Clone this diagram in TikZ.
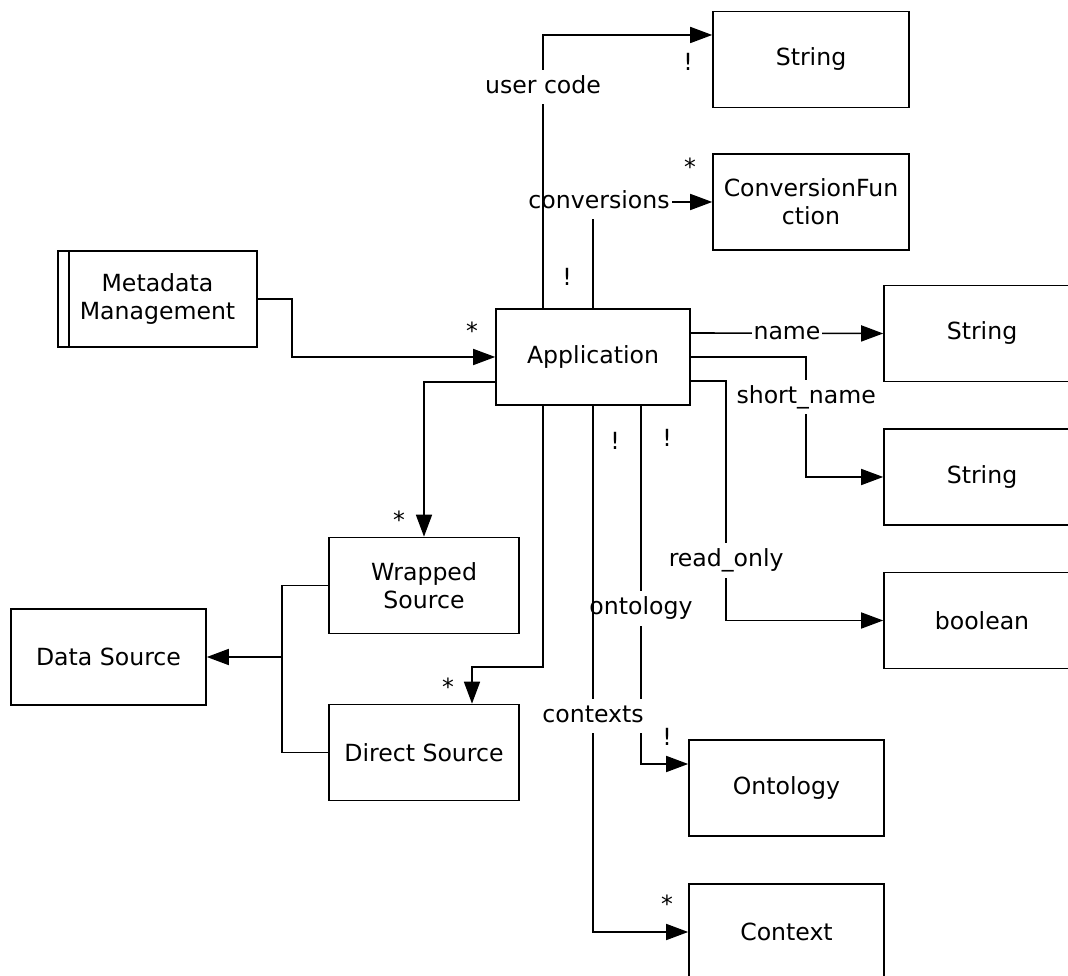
\documentclass[tikz,border=0pt]{standalone}
\usepackage{fontspec}
\setmainfont{DejaVu Sans}
\usetikzlibrary{arrows.meta}
\begin{document}
\begin{tikzpicture}[x=1pt, y=1pt,
	classbox/.style={draw, line width=1.6pt, minimum width=195pt, minimum height=96pt, align=center, font=\fontsize{23.6}{28}\selectfont},
	link/.style={line width=1.6pt, -{Triangle[length=22pt, width=16pt]}},
	plain/.style={line width=1.6pt},
	lbl/.style={fill=white, inner xsep=2pt, inner ysep=6pt, text height=17.5pt, text depth=5pt, font=\fontsize{23.6}{28}\selectfont},
	mult/.style={inner sep=0pt, font=\fontsize{23.6}{28}\selectfont}]
				\useasboundingbox (0,0) rectangle (1068,976);
				\clip (0,0) rectangle (1068,976);
				\node[classbox, minimum width=196pt] (str1) at (811,916.5) {String};
				\node[classbox, minimum width=196pt] (conv) at (811,774) {ConversionFun\\ction};
				\node[classbox, minimum width=199pt] (meta) at (157.5,677) {Metadata\\Management};
				\draw[plain] ([xshift=12pt]meta.north west) -- ([xshift=12pt]meta.south west);
				\node[classbox, minimum width=194pt] (app) at (593,619) {Application};
				\node[classbox, minimum width=196pt] (str2) at (982,642.5) {String};
				\node[classbox, minimum width=196pt] (str3) at (982,499) {String};
				\node[classbox, minimum width=196pt] (bool) at (982,355.5) {boolean};
				\node[classbox, minimum width=190pt] (wrap) at (424,390.5) {Wrapped\\Source};
				\node[classbox] (data) at (108.5,319) {Data Source};
				\node[classbox, minimum width=190pt] (direct) at (424,223.5) {Direct Source};
				\node[classbox] (onto) at (786.5,188) {Ontology};
				\node[classbox] (ctx) at (786.5,44) {Context};
				\draw[link] (app.north) |- node[lbl, pos=0.5, xshift=6pt] {conversions} (conv.west);
				\draw[link] ([xshift=-50pt]app.north) |- node[lbl, pos=0.405] {user code} ([yshift=24.5pt]str1.west);
				\draw[link] ([yshift=24pt]app.east) -- node[lbl, pos=0.5] {name} (str2.west);
				\draw[link] (app.east) -| node[lbl, pos=0.667] {short\_name} ([xshift=-77pt]str3.west) -- (str3.west);
				\draw[link] ([yshift=-24pt]app.east) -| node[lbl, pos=0.875] {read\_only} ([xshift=-157pt]bool.west) -- (bool.west);
				\draw[link] ([xshift=48pt]app.south) |- node[lbl, pos=0.283] {ontology} ([yshift=24pt]onto.west);
				\draw[link] (app.south) |- node[lbl, pos=0.295] {contexts} (ctx.west);
				\draw[link] ([xshift=-50pt]app.south) |- ([xshift=48pt, yshift=36.5pt]direct.north) -- ([xshift=48pt]direct.north);
				\draw[link] ([yshift=-25pt]app.west) -| (wrap.north);
				\draw[link] (meta.east) -| ([xshift=-203pt]app.west) -- (app.west);
				\coordinate (join) at ([xshift=75pt]data.east);
				\draw[link] (join) -- (data.east);
				\draw[plain] (wrap.west) -| (join) |- (direct.west);
				\node[mult] (m1) at (688,914) {!};
				\node[mult] (m2) at (690,809) {*};
				\node[mult] (m3) at (567,699) {!};
				\node[mult] (m4) at (472,645) {*};
				\node[mult] (m5) at (399,456) {*};
				\node[mult] (m6) at (448,289) {*};
				\node[mult] (m7) at (615,535) {!};
				\node[mult] (m8) at (667,538) {!};
				\node[mult] (m9) at (667,239) {!};
				\node[mult] (m10) at (667,72) {*};
\end{tikzpicture}
\end{document}
